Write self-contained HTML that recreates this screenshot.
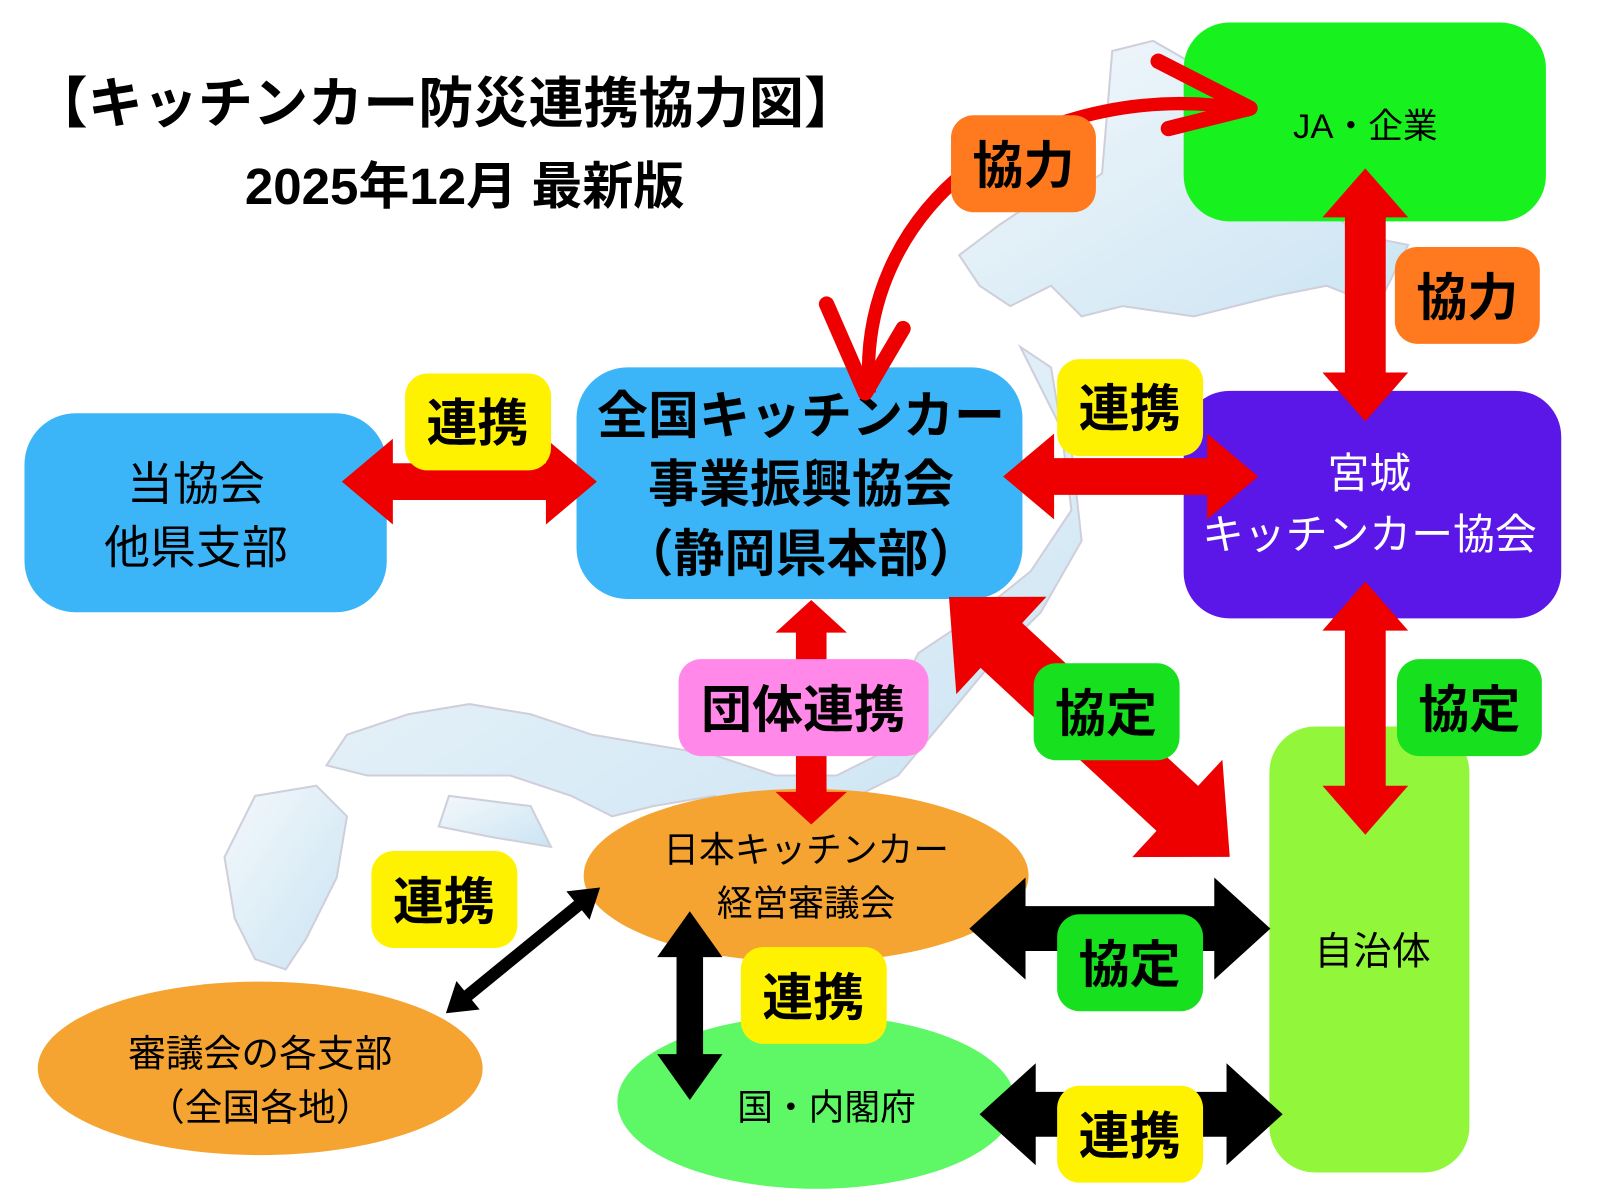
<!DOCTYPE html>
<html><head><meta charset="utf-8"><style>
html,body{margin:0;padding:0;background:#fff;width:1600px;height:1200px;overflow:hidden}
svg{display:block}
text{font-family:"Liberation Sans","Noto Sans CJK JP",sans-serif}
.b{font-weight:bold}
</style></head><body>
<svg width="1600" height="1200" viewBox="0 0 1568 1176" xmlns="http://www.w3.org/2000/svg">
<defs>
<linearGradient id="mg" x1="0" y1="0" x2="1" y2="1">
<stop offset="0" stop-color="#f0f6fb"/><stop offset="1" stop-color="#b5d9ee"/></linearGradient>
</defs>
<rect width="1568" height="1176" fill="#fff"/>
<g fill="url(#mg)" stroke="#bbc" stroke-width="2" opacity="0.7">
<path d="M1090,50 L1130,40 L1200,80 L1250,160 L1330,230 L1380,240 L1350,300 L1300,280 L1250,290 L1170,310 L1100,300 L1060,310 L1030,280 L990,300 L960,280 L940,250 L980,220 L1010,200 L1050,190 L1080,170 L1085,110 Z"/>
<path d="M1000,340 L1030,360 L1040,420 L1050,500 L1010,560 L960,600 L900,640 L880,680 L860,740 L820,760 L760,760 L700,740 L640,730 L580,720 L520,700 L460,690 L400,700 L340,720 L320,750 L360,760 L420,760 L500,760 L560,780 L600,800 L640,790 L700,780 L760,800 L820,790 L880,760 L930,700 L980,640 L1020,600 L1060,530 L1050,440 Z"/>
<path d="M250,780 L310,770 L340,800 L330,860 L300,920 L280,950 L250,940 L230,900 L220,840 Z"/>
<path d="M440,780 L520,790 L540,830 L480,820 L430,810 Z"/>
</g>
<text x="32" y="120" class="b" font-size="54">【キッチンカー防災連携協力図】</text>
<text x="240" y="200" class="b" font-size="50">2025年12月 最新版</text>

<rect x="1160" y="22" width="355" height="195" rx="45" fill="#17f21e"/>
<text x="1338" y="135" font-size="34" text-anchor="middle">JA・企業</text>
<rect x="1160" y="383" width="370" height="223" rx="45" fill="#5b16e8"/>
<text x="1342" y="478" font-size="41" text-anchor="middle" fill="#fff">宮城</text>
<text x="1342" y="538" font-size="41" text-anchor="middle" fill="#fff">キッチンカー協会</text>
<rect x="24" y="405" width="355" height="195" rx="50" fill="#3bb5f7"/>
<text x="192" y="490" font-size="45" text-anchor="middle">当協会</text>
<text x="192" y="552" font-size="45" text-anchor="middle">他県支部</text>
<rect x="565" y="360" width="437" height="227" rx="50" fill="#3bb5f7"/>
<text x="785" y="425" class="b" font-size="50" text-anchor="middle">全国キッチンカー</text>
<text x="785" y="492" class="b" font-size="50" text-anchor="middle">事業振興協会</text>
<text x="785" y="560" class="b" font-size="50" text-anchor="middle">（静岡県本部）</text>
<rect x="1244" y="712" width="196" height="437" rx="45" fill="#92f73a"/>
<text x="1345" y="945" font-size="38" text-anchor="middle">自治体</text>
<ellipse cx="790" cy="858" rx="218" ry="85" fill="#f5a431"/>
<text x="790" y="845" font-size="35" text-anchor="middle">日本キッチンカー</text>
<text x="790" y="897" font-size="35" text-anchor="middle">経営審議会</text>
<ellipse cx="255" cy="1047" rx="218" ry="85" fill="#f5a431"/>
<text x="255" y="1045" font-size="37" text-anchor="middle">審議会の各支部</text>
<text x="255" y="1098" font-size="37" text-anchor="middle">（全国各地）</text>
<ellipse cx="800" cy="1080" rx="195" ry="85" fill="#5ef765"/>
<text x="810" y="1097" font-size="35" text-anchor="middle">国・内閣府</text>

<path d="M852,385 C845,300 880,220 950,165 C1030,110 1130,90 1225,108" fill="none" stroke="#ee0000" stroke-width="13"/>
<path d="M1135,60 L1225,106 L1145,126" fill="none" stroke="#ee0000" stroke-width="15" stroke-linecap="round" stroke-linejoin="round"/>
<path d="M810,298 L848,385 L885,322" fill="none" stroke="#ee0000" stroke-width="15" stroke-linecap="round" stroke-linejoin="round"/>

<g fill="#ee0000">
<polygon transform="translate(335,472)" points="0,0 50,-42 50,-18 200,-18 200,-42 250,0 200,42 200,18 50,18 50,42"/>
<polygon transform="translate(983,467)" points="0,0 50,-42 50,-18 200,-18 200,-42 250,0 200,42 200,18 50,18 50,42"/>
<polygon transform="translate(1338,165) rotate(90)" points="0,0 48,-42 48,-20 200,-20 200,-42 248,0 200,42 200,20 48,20 48,42"/>
<polygon transform="translate(1338,570) rotate(90)" points="0,0 48,-42 48,-20 200,-20 200,-42 248,0 200,42 200,20 48,20 48,42"/>
<polygon transform="translate(795,588) rotate(90)" points="0,0 32,-35 32,-15 188,-15 188,-35 220,0 188,35 188,15 32,15 32,35"/>
<polygon transform="translate(930,585) rotate(42.8)" points="0,0 70,-65 70,-30 305,-30 305,-65 375,0 305,65 305,30 70,30 70,65"/>
</g>
<g fill="#000">
<polygon transform="translate(950,910)" points="0,0 55,-50 55,-22 240,-22 240,-50 295,0 240,50 240,22 55,22 55,50"/>
<polygon transform="translate(960,1092)" points="0,0 55,-50 55,-22 242,-22 242,-50 297,0 242,50 242,22 55,22 55,50"/>
<polygon transform="translate(676,893) rotate(90)" points="0,0 45,-32 45,-13 140,-13 140,-32 185,0 140,32 140,13 45,13 45,32"/>
<polygon transform="translate(437,993) rotate(-39.2)" points="0,0 28,-18 28,-6 167,-6 167,-18 195,0 167,18 167,6 28,6 28,18"/>
</g>

<g class="b" font-size="50" text-anchor="middle">
<rect x="397" y="366" width="143" height="95" rx="22" fill="#fff200"/><text x="468" y="432">連携</text>
<rect x="1036" y="352" width="143" height="95" rx="22" fill="#fff200"/><text x="1107" y="418">連携</text>
<rect x="932" y="113" width="142" height="95" rx="22" fill="#ff7a1f"/><text x="1003" y="180">協力</text>
<rect x="1367" y="242" width="142" height="95" rx="22" fill="#ff7a1f"/><text x="1438" y="309">協力</text>
<rect x="665" y="646" width="245" height="95" rx="22" fill="#ff88e8"/><text x="787" y="713">団体連携</text>
<rect x="1013" y="650" width="143" height="95" rx="22" fill="#17e01e"/><text x="1084" y="717">協定</text>
<rect x="1369" y="646" width="142" height="95" rx="22" fill="#17e01e"/><text x="1440" y="713">協定</text>
<rect x="364" y="834" width="143" height="95" rx="22" fill="#fff200"/><text x="435" y="901">連携</text>
<rect x="726" y="928" width="143" height="95" rx="22" fill="#fff200"/><text x="797" y="995">連携</text>
<rect x="1036" y="896" width="143" height="95" rx="22" fill="#17e01e"/><text x="1107" y="963">協定</text>
<rect x="1036" y="1064" width="143" height="95" rx="22" fill="#fff200"/><text x="1107" y="1131">連携</text>
</g>
</svg>
</body></html>
